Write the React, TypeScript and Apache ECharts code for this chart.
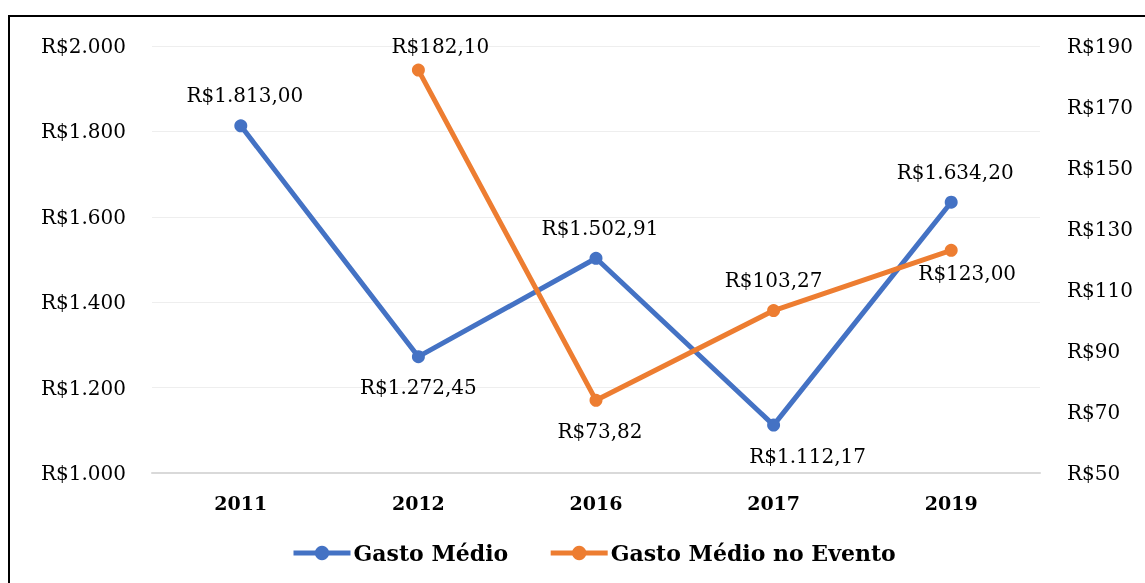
import React, { useEffect, useRef } from "react";
import * as echarts from "echarts";

const categories = ["2011", "2012", "2016", "2017", "2019"];
const gastoMedio = [1813.0, 1272.45, 1502.91, 1112.17, 1634.2];
const gastoEvento: (number | null)[] = [null, 182.1, 73.82, 103.27, 123.0];
const blueLabelPos = ["top", "bottom", "top", "bottom", "top"];
const blueLabelOffset = [[4, -6], [0, 6], [4, -6], [34, 6], [4, -6]];
const orangeLabelPos = ["top", "top", "bottom", "top", "bottom"];
const orangeLabelOffset = [[0, 0], [22, 0], [4, 6], [0, -6], [16, -2]];

const FONT = "DejaVu Serif";

function fmtBRL(v: number, decimals: number) {
  const parts = v.toFixed(decimals).split(".");
  const int = parts[0].replace(/\B(?=(\d{3})+(?!\d))/g, ".");
  return "R$" + int + (decimals > 0 ? "," + parts[1] : "");
}

export default function App() {
  const ref = useRef<HTMLDivElement>(null);
  useEffect(() => {
    if (!ref.current) return;
    const chart = echarts.init(ref.current, null, { renderer: "svg" });
    const labelStyle = { fontFamily: FONT, fontSize: 20, color: "#000" };
    chart.setOption({
      animation: false,
      textStyle: { fontFamily: FONT },
      grid: { left: 152, right: 105, top: 46, bottom: 110 },
      legend: {
        bottom: 14,
        left: 286,
        itemWidth: 57,
        itemHeight: 18,
        itemGap: 40,
        lineStyle: { width: 5 },
        textStyle: { fontFamily: FONT, fontSize: 22, fontWeight: "bold", color: "#000", padding: [0, 0, 0, -2] },
        data: ["Gasto Médio", "Gasto Médio no Evento"],
      },
      xAxis: {
        type: "category",
        data: categories,
        axisLine: { lineStyle: { color: "#d9d9d9", width: 2 } },
        axisTick: { alignWithLabel: true, inside: true, length: 4, lineStyle: { color: "#d9d9d9" } },
        axisLabel: { fontFamily: FONT, fontSize: 19, fontWeight: "bold", color: "#000", margin: 20 },
      },
      yAxis: [
        {
          type: "value",
          min: 1000,
          max: 2000,
          interval: 200,
          axisLine: { show: false },
          axisTick: { show: false },
          splitLine: { lineStyle: { color: "#eeeeee", width: 1 } },
          axisLabel: { fontFamily: FONT, fontSize: 20, color: "#000", margin: 26, formatter: (v: number) => fmtBRL(v, 0) },
        },
        {
          type: "value",
          min: 50,
          max: 190,
          interval: 20,
          position: "right",
          axisLine: { show: false },
          axisTick: { show: false },
          splitLine: { show: false },
          axisLabel: { fontFamily: FONT, fontSize: 20, color: "#000", margin: 27, formatter: (v: number) => fmtBRL(v, 0) },
        },
      ],
      series: [
        {
          name: "Gasto Médio",
          type: "line",
          yAxisIndex: 0,
          symbol: "circle",
          symbolSize: 13,
          lineStyle: { color: "#4472C4", width: 5 },
          itemStyle: { color: "#4472C4" },
          data: gastoMedio.map((v, i) => ({
            value: v,
            label: {
              show: true,
              position: blueLabelPos[i],
              offset: blueLabelOffset[i],
              distance: 8,
              ...labelStyle,
              formatter: () => fmtBRL(v, 2),
            },
          })),
        },
        {
          name: "Gasto Médio no Evento",
          type: "line",
          yAxisIndex: 1,
          symbol: "circle",
          symbolSize: 13,
          lineStyle: { color: "#ED7D31", width: 5 },
          itemStyle: { color: "#ED7D31" },
          data: gastoEvento.map((v, i) =>
            v == null
              ? null
              : {
                  value: v,
                  label: {
                    show: true,
                    position: orangeLabelPos[i],
                    offset: orangeLabelOffset[i],
                    distance: 8,
                    ...labelStyle,
                    formatter: () => fmtBRL(v, 2),
                  },
                }
          ),
        },
      ],
    });
    return () => chart.dispose();
  }, []);
  return (
    <div>
      <div
        style={{
          position: "fixed",
          left: 8,
          top: 15,
          width: 1200,
          height: 700,
          border: "2px solid #000",
          boxSizing: "border-box",
        }}
      />
      <div ref={ref} style={{ position: "fixed", left: 0, top: 0, width: 1145, height: 583 }} />
    </div>
  );
}
